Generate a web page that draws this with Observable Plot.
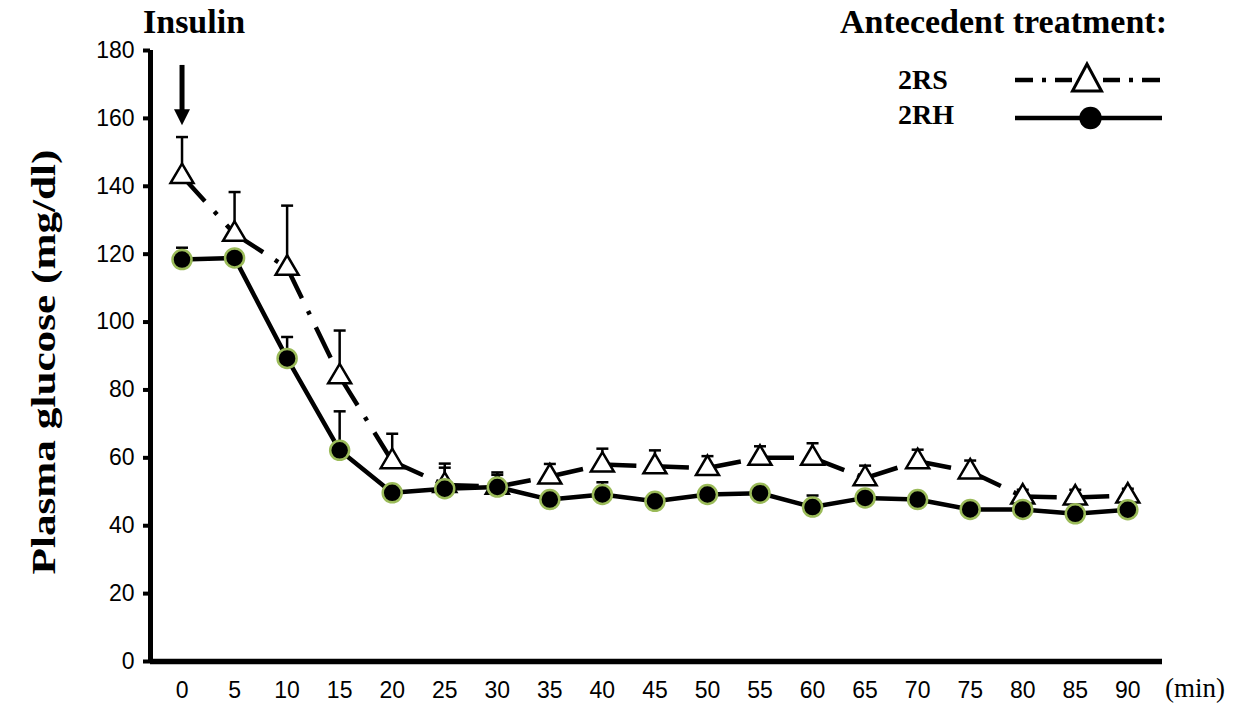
<!DOCTYPE html>
<html><head><meta charset="utf-8">
<script src="https://cdn.jsdelivr.net/npm/d3@7"></script>
<script src="https://cdn.jsdelivr.net/npm/@observablehq/plot@0.6"></script>
<style>
html,body{margin:0;padding:0;background:#fff;}
#wrap{position:relative;width:1242px;height:707px;overflow:hidden;background:#fff;}
#wrap svg{position:absolute;left:0;top:0;}
</style></head><body>
<div id="wrap"></div>
<script>
// ---- data ----
const minutes    = [0, 5, 10, 15, 20, 25, 30, 35, 40, 45, 50, 55, 60, 65, 70, 75, 80, 85, 90];
const glucose2RS = [143, 126, 116, 84, 59, 52, 51.5, 54.5, 58, 57.5, 57, 60, 60, 54, 59, 56, 48.6, 48.3, 48.9];
const upper2RS   = [154.5, 138.3, 134.3, 97.5, 67.1, 58.3, 55.7, 58.2, 62.7, 62.2, 60.5, 63.4, 64.3, 57.7, 62.4, 59.2, 50.6, 50.6, 50.9];
const glucose2RH = [118.4, 118.9, 89.3, 62.2, 49.7, 50.9, 51.4, 47.7, 49.2, 47.2, 49.2, 49.6, 45.5, 48.2, 47.7, 44.8, 44.8, 43.5, 44.7];
const upper2RH   = [121.9, 120.5, 95.6, 73.7, 51.5, 57.1, 55.0, 49.5, 52.8, 49.0, 51.0, 51.5, 48.9, 50.0, 49.5, 46.5, 46.5, 45.5, 46.5];
const xTicks = [0, 5, 10, 15, 20, 25, 30, 35, 40, 45, 50, 55, 60, 65, 70, 75, 80, 85, 90];
const yTicks = [0, 20, 40, 60, 80, 100, 120, 140, 160, 180];
const insulinArrow = [{minute: 0, from: 175.6, to: 158}];
const seriesLabels = ["2RS", "2RH"];
const titleLeft = "Insulin";
const titleRight = "Antecedent treatment:";
const yTitle = "Plasma glucose (mg/dl)";
const xUnit = "(min)";

// ---- derived tables ----
const rowsRS = minutes.map((m, i) => ({minute: m, value: glucose2RS[i], upper: upper2RS[i]}));
const rowsRH = minutes.map((m, i) => ({minute: m, value: glucose2RH[i], upper: upper2RH[i]}));
const segs = rows => d3.pairs(rows).map(([a, b]) => ({x1: a.minute, y1: a.value, x2: b.minute, y2: b.value}));

const capSymbol = {draw(ctx) { ctx.moveTo(-6, 0); ctx.lineTo(6, 0); }};
const triSymbol = {draw(ctx) { ctx.moveTo(0, -12.5); ctx.lineTo(11.5, 7); ctx.lineTo(-11.5, 7); ctx.closePath(); }};
const headSymbol = {draw(ctx) { ctx.moveTo(0, 0); ctx.lineTo(-8, -16); ctx.lineTo(8, -16); ctx.closePath(); }};

const chart = Plot.plot({
  width: 1242, height: 707,
  marginLeft: 150, marginRight: 80, marginTop: 50, marginBottom: 46,
  style: {fontFamily: "'Liberation Sans', Arial, sans-serif", fontSize: "23px", color: "black", background: "white"},
  x: {domain: [-3, 93.3]},
  y: {domain: [0, 180]},
  marks: [
    Plot.axisY({ticks: yTicks, tickSize: 7, tickPadding: 9, strokeWidth: 4, fontSize: 23, label: null, stroke: "black", fill: "black"}),
    Plot.axisX({ticks: xTicks, tickSize: 0, tickPadding: 20, fontSize: 23, label: null, fill: "black", tickFormat: d => String(d)}),
    // error bars
    Plot.ruleX(rowsRS, {x: "minute", y1: "value", y2: "upper", stroke: "black", strokeWidth: 2.5}),
    Plot.ruleX(rowsRH, {x: "minute", y1: "value", y2: "upper", stroke: "black", strokeWidth: 2.5}),
    Plot.dot(rowsRS, {x: "minute", y: "upper", symbol: capSymbol, stroke: "black", fill: "none", strokeWidth: 2.5}),
    Plot.dot(rowsRH, {x: "minute", y: "upper", symbol: capSymbol, stroke: "black", fill: "none", strokeWidth: 2.5}),
    // lines
    Plot.link(segs(rowsRS), {x1: "x1", y1: "y1", x2: "x2", y2: "y2", stroke: "black", strokeWidth: 4.5, strokeDasharray: "34,14,4,14"}),
    Plot.line(rowsRH, {x: "minute", y: "value", stroke: "black", strokeWidth: 4.5}),
    // markers
    Plot.dot(rowsRS, {x: "minute", y: "value", symbol: triSymbol, fill: "white", stroke: "black", strokeWidth: 2.5}),
    Plot.dot(rowsRH, {x: "minute", y: "value", r: 9.5, fill: "black", stroke: "#9bbb59", strokeWidth: 2.5}),
    // insulin arrow
    Plot.ruleX(insulinArrow, {x: "minute", y1: "from", y2: d => d.to + 4, stroke: "black", strokeWidth: 5}),
    Plot.dot(insulinArrow, {x: "minute", y: "to", symbol: headSymbol, fill: "black", stroke: "none"}),
    // axis lines
    Plot.ruleY([0], {stroke: "black", strokeWidth: 5.5}),
    Plot.ruleX([-3], {stroke: "black", strokeWidth: 5})
  ]
});
document.getElementById("wrap").appendChild(chart);

// ---- overlay: titles and legend ----
const ov = d3.select("#wrap").append("svg").attr("width", 1242).attr("height", 707)
  .style("pointer-events", "none");
const serif = "'Liberation Serif', 'Times New Roman', serif";
ov.append("text").attr("x", 143).attr("y", 33).text(titleLeft)
  .attr("font-family", serif).attr("font-weight", "bold").attr("font-size", 34).attr("fill", "black");
ov.append("text").attr("x", 840).attr("y", 33).text(titleRight)
  .attr("font-family", serif).attr("font-weight", "bold").attr("font-size", 34).attr("fill", "black");
ov.append("text").attr("transform", "translate(55,362) rotate(-90)").attr("text-anchor", "middle")
  .attr("textLength", 425).attr("lengthAdjust", "spacingAndGlyphs").text(yTitle)
  .attr("font-family", serif).attr("font-weight", "bold").attr("font-size", 34).attr("fill", "black");
ov.append("text").attr("x", 1165).attr("y", 697).text(xUnit)
  .attr("font-family", serif).attr("font-size", 27).attr("fill", "black");

// legend
ov.append("text").attr("x", 898).attr("y", 89).text(seriesLabels[0])
  .attr("font-family", serif).attr("font-weight", "bold").attr("font-size", 28).attr("fill", "black");
ov.append("text").attr("x", 898).attr("y", 124).text(seriesLabels[1])
  .attr("font-family", serif).attr("font-weight", "bold").attr("font-size", 28).attr("fill", "black");
ov.append("line").attr("x1", 1015).attr("x2", 1072).attr("y1", 80).attr("y2", 80)
  .attr("stroke", "black").attr("stroke-width", 4.5).attr("stroke-dasharray", "18,9,4,9");
ov.append("line").attr("x1", 1160).attr("x2", 1103).attr("y1", 80).attr("y2", 80)
  .attr("stroke", "black").attr("stroke-width", 4.5).attr("stroke-dasharray", "18,9,4,9");
ov.append("path").attr("d", "M1087,64L1101.5,91L1072.5,91Z")
  .attr("fill", "white").attr("stroke", "black").attr("stroke-width", 3);
ov.append("line").attr("x1", 1015).attr("x2", 1162).attr("y1", 118).attr("y2", 118)
  .attr("stroke", "black").attr("stroke-width", 4.5);
ov.append("circle").attr("cx", 1090.5).attr("cy", 118).attr("r", 11.2).attr("fill", "black");
</script>
</body></html>
